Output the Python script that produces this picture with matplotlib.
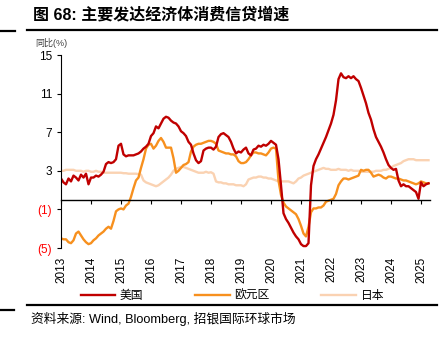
import numpy as np
import matplotlib.pyplot as plt
from matplotlib.lines import Line2D

plt.rcParams['font.family'] = ['Liberation Sans', 'Noto Sans CJK SC']

# monthly YoY growth, Jan 2013 - Apr 2025
us = [2.2, 1.8, 1.6, 2.2, 1.9, 2.5, 2.3, 2.0, 2.6, 2.3, 2.7, 1.6,
      2.3, 2.3, 2.5, 2.4, 2.6, 2.9, 3.7, 3.9, 3.8, 3.9, 4.2, 5.6,
      5.8, 4.7, 4.5, 4.6, 4.6, 4.6, 4.7, 4.8, 5.0, 5.3, 5.5, 5.8,
      6.6, 6.9, 7.6, 7.4, 7.9, 8.4, 8.6, 8.5, 8.2, 8.0, 7.9, 7.6,
      7.1, 6.9, 6.6, 6.0, 5.7, 4.8, 4.1, 3.8, 4.0, 5.1, 5.3, 5.4,
      5.4, 5.2, 5.5, 6.5, 6.8, 6.9, 6.7, 6.5, 6.0, 5.3, 4.8, 5.0,
      4.9, 5.2, 5.4, 4.8, 4.6, 5.2, 5.3, 5.6, 5.5, 5.7, 5.6, 5.8,
      6.1, 5.9, 5.7, 4.2, 1.5, -1.4, -2.0, -2.4, -2.9, -3.4, -3.8, -4.1,
      -4.6, -4.8, -4.8, -4.5, 1.5, 3.5, 4.2, 4.7, 5.3, 5.9, 6.5, 7.2,
      7.9, 8.8, 10.3, 12.5, 13.1, 12.7, 12.6, 12.8, 12.6, 12.8, 12.5, 12.3,
      11.6, 10.8, 10.0, 9.0, 8.3, 7.3, 6.5, 6.0, 5.5, 4.9, 4.2, 3.6,
      3.3, 3.1, 3.2, 2.0, 1.4, 1.6, 1.4, 1.4, 1.2, 1.0, 0.8, 0.1,
      1.8, 1.4, 1.6, 1.7]
ez = [-4.0, -4.1, -4.1, -4.4, -4.5, -4.2, -3.5, -3.3, -3.7, -4.1, -4.4, -4.6,
      -4.5, -4.2, -4.0, -3.7, -3.5, -3.3, -3.0, -2.8, -3.0, -2.2, -1.2, -1.0,
      -0.9, -1.0, -0.6, -0.4, 0.3, 1.2, 2.0, 2.3, 3.3, 4.2, 5.3, 5.7,
      5.8, 5.3, 5.6, 6.1, 6.4, 6.0, 5.4, 5.4, 5.4, 4.3, 2.8, 3.0,
      3.3, 3.6, 3.7, 3.9, 5.0, 5.5, 5.7, 5.8, 5.8, 5.9, 6.0, 6.1,
      6.1, 6.0, 5.8, 5.1, 5.0, 4.9, 4.8, 4.8, 4.7, 4.7, 4.5, 4.0,
      3.8, 3.8, 3.9, 4.2, 4.6, 4.9, 4.9, 4.8, 4.8, 4.7, 4.6, 4.9,
      5.3, 5.4, 5.3, 2.0, 0.5, -0.3, -0.7, -0.9, -1.1, -1.3, -1.5, -2.0,
      -2.7, -3.5, -3.8, -2.8, -1.3, -0.9, -0.9, -0.8, -0.8, -0.6, -0.2, -0.1,
      0.0, 0.1, 0.6, 1.5, 1.9, 2.2, 2.2, 2.1, 2.2, 2.3, 2.4, 2.5,
      3.1, 3.0, 3.1, 3.1, 2.8, 2.4, 2.5, 2.6, 2.5, 2.3, 2.2, 2.4,
      2.4, 2.3, 2.2, 2.2, 2.1, 2.0, 2.0, 1.9, 1.8, 1.7, 1.6, 1.7,
      1.9, 1.8, 1.7, 1.7]
jp = [3.0, 3.0, 3.1, 3.1, 3.1, 3.1, 3.0, 3.0, 3.0, 2.9, 3.0, 3.0,
      2.9, 2.9, 3.0, 2.9, 2.9, 2.8, 2.8, 2.8, 2.8, 2.8, 2.8, 2.8,
      2.8, 2.75, 2.75, 2.7, 2.7, 2.7, 2.7, 2.65, 2.6, 2.0, 1.8, 1.7,
      1.6, 1.5, 1.4, 1.5, 1.7, 1.9, 2.1, 2.3, 2.6, 3.0, 3.2, 3.3,
      3.4, 3.4, 3.3, 3.2, 3.1, 3.0, 2.9, 2.8, 2.8, 2.8, 2.9, 2.8,
      2.85, 2.7, 1.9, 1.8, 1.8, 1.7, 1.7, 1.6, 1.6, 1.6, 1.5, 1.5,
      1.5, 1.4, 1.6, 2.1, 2.2, 2.3, 2.3, 2.4, 2.4, 2.3, 2.3, 2.2,
      2.2, 2.1, 2.0, 1.9, 1.9, 1.9, 1.9, 1.9, 1.8, 1.7, 1.9, 2.2,
      2.3, 2.5, 2.6, 2.7, 2.8, 2.9, 3.0, 3.1, 3.2, 3.3, 3.2, 3.2,
      3.1, 3.1, 3.1, 3.2, 3.1, 3.1, 3.1, 3.0, 3.1, 3.0, 3.0, 3.0,
      2.9, 2.9, 2.9, 2.9, 2.9, 2.9, 3.0, 3.0, 3.0, 3.1, 3.1, 3.2,
      3.3, 3.5, 3.6, 3.7, 3.8, 4.0, 4.1, 4.2, 4.2, 4.2, 4.1, 4.1,
      4.1, 4.1, 4.1, 4.1]
series_names = ['美国', '欧元区', '日本']
years = list(range(2013, 2026))
yticks = [15, 11, 7, 3, -1, -5]
ytick_labels = ['15', '11', '7', '3', '(1)', '(5)']

t = 2013 + np.arange(len(us)) / 12

fig = plt.figure(figsize=(4.47, 3.43), dpi=100)
ax = fig.add_axes([61/447, 1 - 248/343, 369/447, 193/343])

ax.plot(t, jp, color='#FAD2B2', lw=1.7, label=series_names[2])
ax.plot(t, ez, color='#F7901E', lw=1.7, label=series_names[1])
ax.plot(t, us, color='#C00000', lw=1.7, label=series_names[0])

ax.set_xlim(2013, 2025.3)
ax.set_ylim(-5, 15)
ax.set_yticks(yticks)
ax.set_yticklabels(ytick_labels, fontsize=8.5)
for lab, v in zip(ax.get_yticklabels(), yticks):
    if v < 0:
        lab.set_color('red')
ax.tick_params(axis='y', length=3, width=0.8)

ax.spines['top'].set_visible(False)
ax.spines['right'].set_visible(False)
ax.spines['bottom'].set_position(('data', 0))
ax.spines['bottom'].set_linewidth(1.0)
ax.set_xticks(years)
ax.tick_params(axis='x', labelbottom=False, length=3, width=0.8)

sec = ax.secondary_xaxis('bottom')
sec.set_xticks(years)
sec.set_xticklabels([str(y) for y in years], rotation=90, fontsize=8.5)
sec.tick_params(length=0, pad=6)
sec.spines['bottom'].set_visible(False)

h, l = ax.get_legend_handles_labels()
order = [2, 1, 0]
fig.legend([h[i] for i in order], [l[i] for i in order], loc='center',
           bbox_to_anchor=(0.52, 0.137), ncol=3, frameon=False,
           handlelength=2.9, columnspacing=4.4, handletextpad=0.4, fontsize=8.5)

# header / footer rules
fig.add_artist(Line2D([27/447, 437/447], [1 - 30/343] * 2, color='black', lw=1.6))
fig.add_artist(Line2D([0, 15/447], [1 - 31/343] * 2, color='black', lw=1.6))
fig.add_artist(Line2D([27/447, 437/447], [1 - 305/343] * 2, color='black', lw=1.6))
fig.add_artist(Line2D([0, 14/447], [1 - 310/343] * 2, color='black', lw=1.6))

fig.text(33/447, 1 - 15/343, '图 68: 主要发达经济体消费信贷增速', fontsize=11.5,
         fontweight='bold', va='center')
fig.text(35/447, 1 - 43/343, '同比(%)', fontsize=6.5, color='#404040', va='center')
fig.text(31/447, 1 - 319/343, '资料来源: Wind, Bloomberg, 招银国际环球市场',
         fontsize=9.2, va='center')

fig.savefig('out.png', dpi=100)
